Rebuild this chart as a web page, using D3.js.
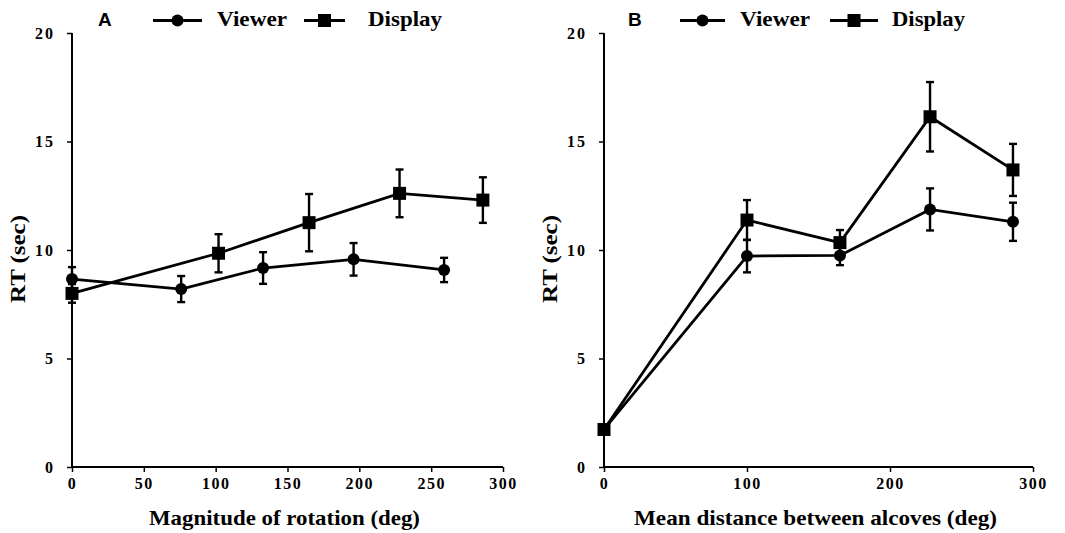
<!DOCTYPE html>
<html>
<head>
<meta charset="utf-8">
<script src="https://cdn.jsdelivr.net/npm/d3@7/dist/d3.min.js"></script>
<style>
  html, body { margin: 0; padding: 0; background: #fff; }
  svg { display: block; }
</style>
</head>
<body>
<svg id="chart" width="1065" height="533"></svg>
<script>
// ── data ────────────────────────────────────────────────────────────────
// Panel A: magnitude of rotation (deg)
const viewerRotX   = [0, 76, 133, 196, 259];
const viewerRotY   = [8.66, 8.2, 9.17, 9.57, 9.08];
const viewerRotErr = [0.55, 0.6, 0.73, 0.75, 0.56];
const displayRotX   = [0, 102, 165, 228, 286];
const displayRotY   = [8.0, 9.85, 11.26, 12.61, 12.3];
const displayRotErr = [0.43, 0.88, 1.32, 1.1, 1.05];

// Panel B: mean distance between alcoves (deg)
const viewerDistX   = [0, 100, 165, 228, 286];
const viewerDistY   = [1.73, 9.72, 9.75, 11.87, 11.3];
const viewerDistErr = [0.1, 0.75, 0.45, 0.97, 0.88];
const displayDistX   = [0, 100, 165, 228, 286];
const displayDistY   = [1.73, 11.38, 10.34, 16.14, 13.69];
const displayDistErr = [0.1, 0.92, 0.58, 1.6, 1.2];

const yTicks  = [0, 5, 10, 15, 20];
const xTicksA = [0, 50, 100, 150, 200, 250, 300];
const xTicksB = [0, 100, 200, 300];
const seriesNames = ["Viewer", "Display"];

// ── helpers ─────────────────────────────────────────────────────────────
const serif = "'Times New Roman', 'Liberation Serif', 'DejaVu Serif', serif";
const sans  = "'Liberation Sans', Arial, sans-serif";
const svg = d3.select("#chart");

function zip(xs, ys, es) {
    return xs.map((x, i) => ({ x, y: ys[i], e: es[i] }));
}

function drawPanel({ left, right, letter, letterX, legend, xTicks, xTitle, xTitleLen, series }) {
    const top = 33, bottom = 467;
    const x = d3.scaleLinear().domain([0, 300]).range([left, right]);
    const y = d3.scaleLinear().domain([0, 20]).range([bottom, top]);
    const g = svg.append("g");

    // ── y axis ──
    const yAxisG = g.append("g")
        .attr("transform", `translate(${left},0)`)
        .attr("font-family", null)
        .call(d3.axisLeft(y).tickValues(yTicks).tickSize(5).tickPadding(12));
    yAxisG.attr("font-family", serif).attr("font-size", 16);
    yAxisG.select("path").attr("stroke", "#000").attr("stroke-width", 2).attr("d", `M0,${top}V${bottom}`);
    yAxisG.selectAll("line").attr("stroke", "#000").attr("stroke-width", 1.5);
    yAxisG.selectAll("text")
        .attr("fill", "#000")
        .style("font-family", serif)
        .style("font-weight", "bold")
        .style("font-size", "16px")
        .style("letter-spacing", "2px");

    // ── x axis ──
    const xAxisG = g.append("g")
        .attr("transform", `translate(0,${bottom})`)
        .call(d3.axisBottom(x).tickValues(xTicks).tickSize(5).tickPadding(6));
    xAxisG.attr("font-family", serif).attr("font-size", 16);
    xAxisG.select("path").attr("stroke", "#000").attr("stroke-width", 2).attr("d", `M${left},0H${right}`);
    xAxisG.selectAll("line").attr("stroke", "#000").attr("stroke-width", 1.5);
    xAxisG.selectAll("text")
        .attr("fill", "#000")
        .style("font-family", serif)
        .style("font-weight", "bold")
        .style("font-size", "16px")
        .style("letter-spacing", "1.5px");

    // ── axis titles ──
    g.append("text")
        .attr("x", (left + right) / 2 - 3)
        .attr("y", 525)
        .attr("text-anchor", "middle")
        .attr("textLength", xTitleLen)
        .attr("lengthAdjust", "spacingAndGlyphs")
        .style("font-family", serif)
        .style("font-weight", "bold")
        .style("font-size", "22px")
        .text(xTitle);

    g.append("text")
        .attr("transform", `translate(${left - 47},${259}) rotate(-90)`)
        .attr("text-anchor", "middle")
        .attr("textLength", 88)
        .attr("lengthAdjust", "spacingAndGlyphs")
        .style("font-family", serif)
        .style("font-weight", "bold")
        .style("font-size", "21px")
        .text("RT (sec)");

    // ── series ──
    const line = d3.line().x(d => x(d.x)).y(d => y(d.y));
    series.forEach((s, si) => {
        const data = s.data;
        g.append("path")
            .datum(data)
            .attr("fill", "none")
            .attr("stroke", "#000")
            .attr("stroke-width", 2.8)
            .attr("d", line);

        // error bars
        const eb = g.selectAll(`.eb${si}`).data(data).enter().append("g").attr("class", `eb${si}`);
        eb.append("line")
            .attr("x1", d => x(d.x)).attr("x2", d => x(d.x))
            .attr("y1", d => y(d.y - d.e)).attr("y2", d => y(d.y + d.e))
            .attr("stroke", "#000").attr("stroke-width", 2.4);
        eb.append("line")
            .attr("x1", d => x(d.x) - 4).attr("x2", d => x(d.x) + 4)
            .attr("y1", d => y(d.y + d.e)).attr("y2", d => y(d.y + d.e))
            .attr("stroke", "#000").attr("stroke-width", 2.4);
        eb.append("line")
            .attr("x1", d => x(d.x) - 4).attr("x2", d => x(d.x) + 4)
            .attr("y1", d => y(d.y - d.e)).attr("y2", d => y(d.y - d.e))
            .attr("stroke", "#000").attr("stroke-width", 2.4);

        // markers
        if (s.shape === "circle") {
            g.selectAll(`.mk${si}`).data(data).enter().append("circle")
                .attr("cx", d => x(d.x)).attr("cy", d => y(d.y)).attr("r", 6).attr("fill", "#000");
        } else {
            g.selectAll(`.mk${si}`).data(data).enter().append("rect")
                .attr("x", d => x(d.x) - 6.5).attr("y", d => y(d.y) - 6.5)
                .attr("width", 13).attr("height", 13).attr("fill", "#000");
        }
    });

    // ── panel letter + legend ──
    g.append("text")
        .attr("x", letterX).attr("y", 26)
        .style("font-family", sans).style("font-weight", "bold").style("font-size", "19px")
        .text(letter);

    legend.forEach((lg, i) => {
        const ly = 20.5;
        g.append("line")
            .attr("x1", lg.x1).attr("x2", lg.x2).attr("y1", ly).attr("y2", ly)
            .attr("stroke", "#000").attr("stroke-width", 2.8);
        if (series[i].shape === "circle") {
            g.append("circle").attr("cx", (lg.x1 + lg.x2) / 2).attr("cy", ly).attr("r", 6).attr("fill", "#000");
        } else {
            g.append("rect").attr("x", (lg.x1 + lg.x2) / 2 - 6.5).attr("y", ly - 6.5)
                .attr("width", 13).attr("height", 13).attr("fill", "#000");
        }
        g.append("text")
            .attr("x", lg.tx).attr("y", 26)
            .attr("textLength", lg.tw).attr("lengthAdjust", "spacingAndGlyphs")
            .style("font-family", serif).style("font-weight", "bold").style("font-size", "21px")
            .text(seriesNames[i]);
    });
}

drawPanel({
    left: 72, right: 503,
    letter: "A", letterX: 98,
    legend: [
        { x1: 153, x2: 202, tx: 217, tw: 70 },
        { x1: 304, x2: 345, tx: 368, tw: 74 }
    ],
    xTicks: xTicksA,
    xTitle: "Magnitude of rotation (deg)", xTitleLen: 271,
    series: [
        { shape: "circle", data: zip(viewerRotX, viewerRotY, viewerRotErr) },
        { shape: "square", data: zip(displayRotX, displayRotY, displayRotErr) }
    ]
});

drawPanel({
    left: 604, right: 1033,
    letter: "B", letterX: 628,
    legend: [
        { x1: 680, x2: 725, tx: 740, tw: 70 },
        { x1: 830, x2: 878, tx: 892, tw: 73 }
    ],
    xTicks: xTicksB,
    xTitle: "Mean distance between alcoves (deg)", xTitleLen: 363,
    series: [
        { shape: "circle", data: zip(viewerDistX, viewerDistY, viewerDistErr) },
        { shape: "square", data: zip(displayDistX, displayDistY, displayDistErr) }
    ]
});
</script>
</body>
</html>
